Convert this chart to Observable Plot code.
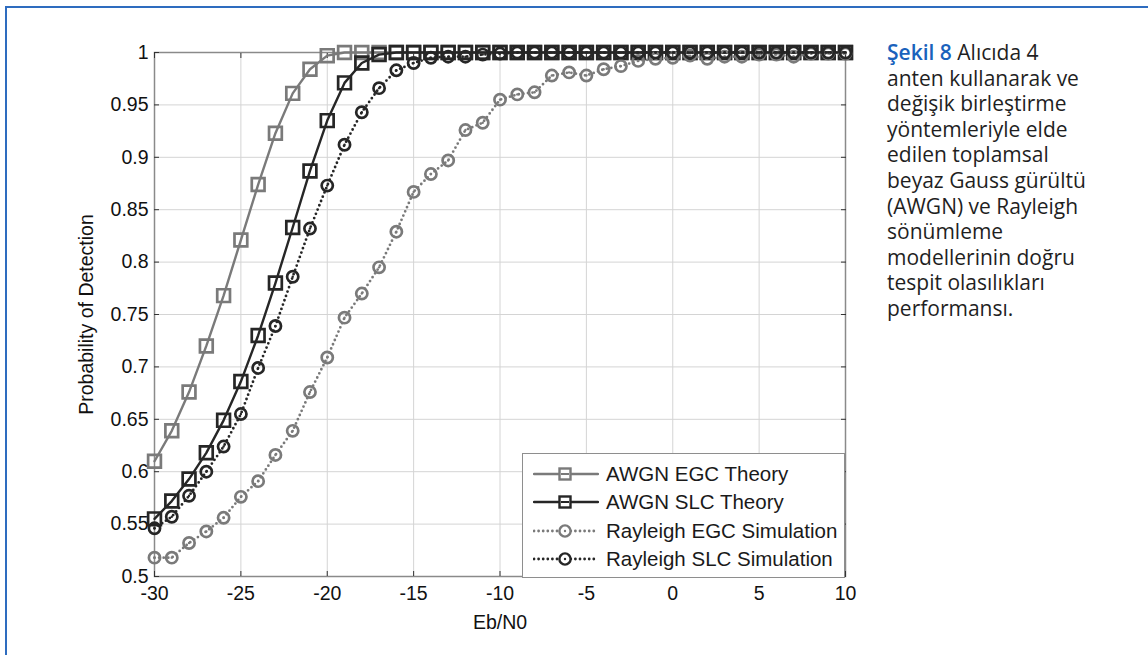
<!DOCTYPE html>
<html>
<head>
<meta charset="utf-8">
<script src="https://cdn.jsdelivr.net/npm/d3@7"></script>
<script src="https://cdn.jsdelivr.net/npm/@observablehq/plot@0.6"></script>
<style>
  html, body { margin: 0; padding: 0; background: #fff; }
  #wrap { position: relative; width: 1148px; height: 655px; overflow: hidden; background: #fff; }
  #frame { position: absolute; left: 5px; top: 6px; width: 1200px; height: 700px;
           border-left: 2px solid #2e6cbf; border-top: 2px solid #2e6cbf; }
  #chart { position: absolute; left: 0; top: 0; }
  #caption { position: absolute; left: 887px; top: 40px; width: 260px; white-space: nowrap;
             font-family: "Open Sans", "Noto Sans", sans-serif; font-size: 21px;
             line-height: 25.6px; color: #1f1f1f; }
  #caption .fig { color: #1a62bc; font-weight: 600; }
  #legend { position: absolute; left: 522px; top: 453px; width: 323px; height: 125px;
            box-sizing: border-box; border: 1px solid #8e8e8e; background: #fff; }
  #legend .row { position: absolute; left: 0; height: 28px; width: 100%; }
  #legend svg { position: absolute; left: 10px; top: 0; }
  #legend .lab { position: absolute; left: 83px; top: 0; line-height: 28px; white-space: nowrap;
                 font-family: "Liberation Sans", Arial, sans-serif; font-size: 20.5px; color: #1a1a1a; }
</style>
</head>
<body>
<div id="wrap">
  <div id="frame"></div>
  <div id="chart"></div>
  <div id="legend"></div>
  <div id="caption"></div>
</div>
<script>
// ---- data ----
const ebn0 = [-30,-29,-28,-27,-26,-25,-24,-23,-22,-21,-20,-19,-18,-17,-16,-15,-14,-13,-12,-11,-10,
              -9,-8,-7,-6,-5,-4,-3,-2,-1,0,1,2,3,4,5,6,7,8,9,10];

const awgnEGC = [0.610,0.639,0.676,0.720,0.768,0.821,0.874,0.923,0.961,0.984,0.997,
                 1,1,1,1,1,1,1,1,1,1,1,1,1,1,1,1,1,1,1,1,1,1,1,1,1,1,1,1,1,1];

const awgnSLC = [0.555,0.572,0.593,0.618,0.649,0.686,0.730,0.780,0.833,0.887,0.935,0.971,0.990,0.998,
                 1,1,1,1,1,1,1,1,1,1,1,1,1,1,1,1,1,1,1,1,1,1,1,1,1,1,1];

const rayEGC = [0.518,0.518,0.532,0.543,0.556,0.576,0.591,0.616,0.639,0.676,0.709,0.747,0.770,0.795,
                0.829,0.867,0.884,0.897,0.926,0.933,0.955,0.960,0.962,0.978,0.981,0.978,0.984,0.987,
                0.992,0.994,0.995,0.997,0.994,0.996,0.996,0.998,0.998,0.996,0.999,0.999,0.999];

const raySLC = [0.546,0.557,0.577,0.600,0.624,0.655,0.699,0.739,0.786,0.832,0.873,0.912,0.943,0.966,
                0.983,0.990,0.995,0.996,0.996,0.998,0.999,
                1,1,1,1,1,1,1,1,1,1,1,1,1,1,1,1,1,1,1,1];

const seriesNames = ["AWGN EGC Theory", "AWGN SLC Theory", "Rayleigh EGC Simulation", "Rayleigh SLC Simulation"];
const seriesValues = [awgnEGC, awgnSLC, rayEGC, raySLC];
const seriesColors = ["#7a7a7a", "#262626", "#7a7a7a", "#262626"];
const seriesSymbols = ["square", "square", "circle", "circle"];
const seriesDotted = [false, false, true, true];

const xTicks = [-30,-25,-20,-15,-10,-5,0,5,10];
const xTickLabels = ["-30","-25","-20","-15","-10","-5","0","5","10"];
const yTicks = [0.5,0.55,0.6,0.65,0.7,0.75,0.8,0.85,0.9,0.95,1];
const yTickLabels = ["0.5","0.55","0.6","0.65","0.7","0.75","0.8","0.85","0.9","0.95","1"];

const captionLead = "Şekil 8";
const captionLines = ["Alıcıda 4", "anten kullanarak ve", "değişik birleştirme", "yöntemleriyle elde",
  "edilen toplamsal", "beyaz Gauss gürültü", "(AWGN) ve Rayleigh", "sönümleme",
  "modellerinin doğru", "tespit olasılıkları", "performansı."];

// ---- build ----
const table = seriesNames.flatMap((name, s) =>
  ebn0.map((x, i) => ({ x, y: seriesValues[s][i], name })));

const seriesMarks = seriesNames.flatMap((name, s) => {
  const d = table.filter(r => r.name === name);
  const color = seriesColors[s];
  const marks = [
    Plot.line(d, { x: "x", y: "y", stroke: color, strokeWidth: seriesDotted[s] ? 2.8 : 2.4,
      strokeDasharray: seriesDotted[s] ? "0,4.6" : null, strokeLinecap: "round" })
  ];
  if (seriesSymbols[s] === "square") {
    marks.push(Plot.dot(d, { x: "x", y: "y", symbol: "square", r: 7.2, fill: "none", stroke: color, strokeWidth: 2.7 }));
  } else {
    marks.push(Plot.dot(d, { x: "x", y: "y", symbol: "circle", r: 5.6, fill: "none", stroke: color, strokeWidth: 2.7 }));
    marks.push(Plot.dot(d, { x: "x", y: "y", symbol: "circle", r: 1.2, fill: color, stroke: "none" }));
  }
  return marks;
});

const fmtX = d => xTickLabels[xTicks.indexOf(d)];
const fmtY = d => yTickLabels[yTicks.indexOf(d)];
const blank = () => "";

const chart = Plot.plot({
  width: 1148, height: 655,
  marginLeft: 154, marginRight: 303, marginTop: 52, marginBottom: 79,
  x: { domain: [-30, 10] },
  y: { domain: [0.5, 1] },
  style: { fontFamily: "'Liberation Sans', Arial, sans-serif", fontSize: "19px", color: "#111", background: "transparent" },
  marks: [
    Plot.gridX(xTicks, { stroke: "#d4d4d4", strokeOpacity: 1, strokeWidth: 1 }),
    Plot.gridY(yTicks, { stroke: "#d4d4d4", strokeOpacity: 1, strokeWidth: 1 }),
    Plot.frame({ stroke: "#8a8a8a", strokeWidth: 1.5 }),
    // inward tick marks on all four sides
    Plot.axisX(xTicks, { anchor: "bottom", tickSize: 5, dy: -5, tickFormat: blank, label: null, stroke: "#333" }),
    Plot.axisX(xTicks, { anchor: "top", tickSize: 5, dy: 5, tickFormat: blank, label: null, stroke: "#333" }),
    Plot.axisY(yTicks, { anchor: "left", tickSize: 5, dx: 5, tickFormat: blank, label: null, stroke: "#333" }),
    Plot.axisY(yTicks, { anchor: "right", tickSize: 5, dx: -5, tickFormat: blank, label: null, stroke: "#333" }),
    // labelled axes
    Plot.axisX(xTicks, { anchor: "bottom", tickSize: 0, tickPadding: 10, tickFormat: fmtX, fontSize: 19.5,
      label: "Eb/N0", labelAnchor: "center", labelOffset: 52, labelArrow: "none" }),
    Plot.axisY(yTicks, { anchor: "left", tickSize: 0, tickPadding: 6, tickFormat: fmtY, fontSize: 19.5,
      label: "Probability of Detection", labelAnchor: "center", labelOffset: 75, labelArrow: "none" }),
    ...seriesMarks
  ]
});
document.getElementById("chart").appendChild(chart);

// ---- caption ----
const cap = d3.select("#caption");
captionLines.forEach((line, i) => {
  const div = cap.append("div");
  if (i === 0) { div.append("span").attr("class", "fig").text(captionLead); div.append("span").text(" " + line); }
  else div.text(line);
});

// ---- legend (HTML overlay, built from the series arrays) ----
const legend = d3.select("#legend");
seriesNames.forEach((name, s) => {
  const row = legend.append("div").attr("class", "row").style("top", (6 + s * 28.4) + "px");
  const svg = row.append("svg").attr("width", 66).attr("height", 28);
  svg.append("line").attr("x1", 1).attr("x2", 65).attr("y1", 14).attr("y2", 14)
    .attr("stroke", seriesColors[s]).attr("stroke-width", seriesDotted[s] ? 2.8 : 2.4)
    .attr("stroke-linecap", "round")
    .attr("stroke-dasharray", seriesDotted[s] ? "0,4.6" : null);
  if (seriesSymbols[s] === "square") {
    svg.append("rect").attr("x", 26.5).attr("y", 8.5).attr("width", 11).attr("height", 11)
      .attr("fill", "#fff").attr("stroke", seriesColors[s]).attr("stroke-width", 2.4);
    svg.append("line").attr("x1", 28).attr("x2", 36).attr("y1", 14).attr("y2", 14)
      .attr("stroke", seriesColors[s]).attr("stroke-width", 2);
  } else {
    svg.append("circle").attr("cx", 32).attr("cy", 14).attr("r", 5.6)
      .attr("fill", "#fff").attr("stroke", seriesColors[s]).attr("stroke-width", 2.4);
    svg.append("circle").attr("cx", 32).attr("cy", 14).attr("r", 1.2).attr("fill", seriesColors[s]);
  }
  row.append("div").attr("class", "lab").text(name);
});
</script>
</body>
</html>
